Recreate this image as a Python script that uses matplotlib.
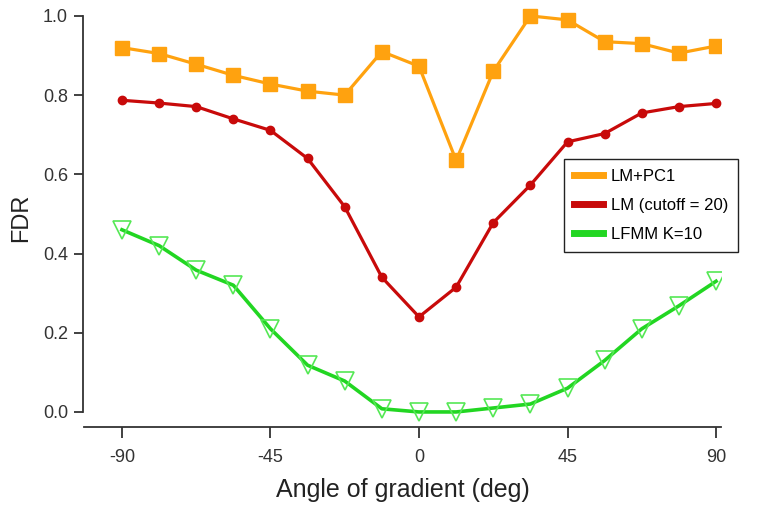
import numpy as np
import matplotlib
matplotlib.use("Agg")
import matplotlib.pyplot as plt

plt.rcParams['font.family'] = ['Liberation Sans', 'DejaVu Sans']
plt.rcParams['axes.unicode_minus'] = False

# angle of gradient, 17 steps from -90 to 90
angle = [-90, -78.75, -67.5, -56.25, -45, -33.75, -22.5, -11.25, 0,
         11.25, 22.5, 33.75, 45, 56.25, 67.5, 78.75, 90]

fdr_pc1 = [0.92, 0.905, 0.878, 0.85, 0.828, 0.81, 0.80, 0.91, 0.873,
           0.635, 0.86, 1.0, 0.99, 0.935, 0.93, 0.906, 0.924]
fdr_lm = [0.787, 0.78, 0.771, 0.74, 0.711, 0.64, 0.518, 0.34, 0.24,
          0.315, 0.478, 0.573, 0.682, 0.703, 0.755, 0.771, 0.779]
fdr_lfmm = [0.46, 0.42, 0.358, 0.32, 0.21, 0.118, 0.078, 0.008, 0.0,
            0.0, 0.01, 0.02, 0.06, 0.13, 0.21, 0.268, 0.33]

labels = ['LM+PC1', 'LM (cutoff = 20)', 'LFMM K=10']

c_orange = '#FFA20F'
c_red = '#C80A0A'
c_green = '#22D622'

fig = plt.figure(figsize=(7.68, 5.05), dpi=100)
ax = fig.add_axes([84/768, 78/505, 637/768, 419/505])

ax.plot(angle, fdr_pc1, '-s', color=c_orange, lw=2.3, ms=9.5, label=labels[0])
ax.plot(angle, fdr_lm, '-o', color=c_red, lw=2.3, ms=6, label=labels[1])
ax.plot(angle, fdr_lfmm, '-v', color=c_green, lw=2.6, ms=13,
        mfc='none', mec='#55E855', mew=1.2, label=labels[2])

ax.set_xlim(-101.5, 91.5)
ax.set_ylim(-0.038, 1.02)
ax.set_xticks([-90, -45, 0, 45, 90])
ax.set_yticks([0.0, 0.2, 0.4, 0.6, 0.8, 1.0])
ax.set_yticklabels(['0.0', '0.2', '0.4', '0.6', '0.8', '1.0'])

for s in ['top', 'right']:
    ax.spines[s].set_visible(False)
ax.spines['left'].set_bounds(0, 1)
ax.spines['left'].set_position(('outward', 1))
for s in ['left', 'bottom']:
    ax.spines[s].set_linewidth(1.3)
    ax.spines[s].set_color('#333333')

ax.tick_params(axis='y', direction='out', length=6.5, width=1.3, color='#333333',
               labelsize=13, labelcolor='#333333', pad=4)
ax.tick_params(axis='x', direction='out', length=8, width=1.3, color='#333333',
               labelsize=13, labelcolor='#333333', pad=7.5)

ax.set_xlabel('Angle of gradient (deg)', fontsize=18, color='#222222', labelpad=9)
ax.set_ylabel('FDR', fontsize=17, color='#222222', labelpad=8)

leg = ax.legend(loc='upper left', bbox_to_anchor=(0.754, 0.64), fontsize=12,
                frameon=True, fancybox=False, edgecolor='#222222', framealpha=1,
                handlelength=1.7, handletextpad=0.5, borderpad=0.6,
                labelspacing=0.85, borderaxespad=0)
leg.get_frame().set_linewidth(1.0)
for h in leg.get_lines():
    h.set_marker('None')
    h.set_linewidth(5)

fig.savefig('out.png', dpi=100)
